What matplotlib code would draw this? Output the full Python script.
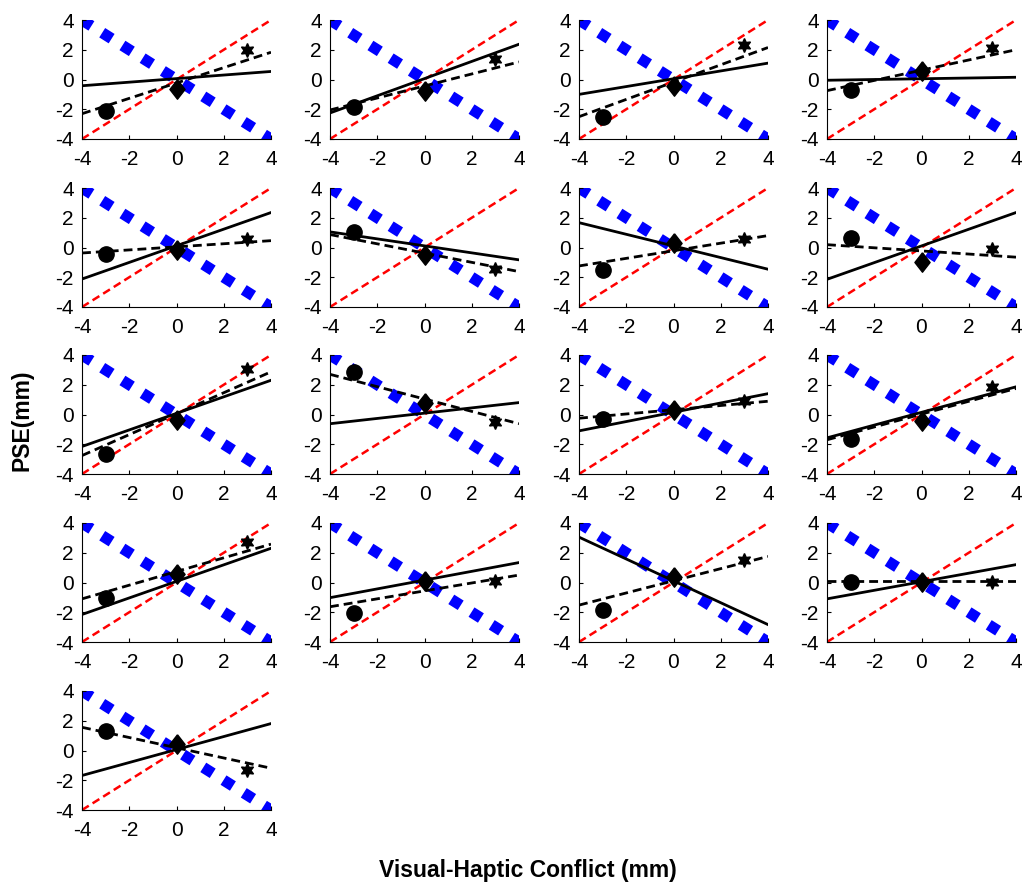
import matplotlib
matplotlib.use("Agg")
import matplotlib.pyplot as plt

plt.rcParams["font.family"] = ["Liberation Sans", "DejaVu Sans"]
plt.rcParams["axes.unicode_minus"] = False

# conflict levels where the three markers sit
conflict = [-3, 0, 3]
line_x = [-4, 4]

# measured PSE per subject (circle at -3, diamond at 0, hexagram at +3)
circle_y = [-2.1, -1.85, -2.5, -0.7, -0.44, 1.05, -1.5, 0.65, -2.65, 2.87,
            -0.28, -1.63, -1.05, -2.08, -1.86, 0.05, 1.34]
diamond_y = [-0.65, -0.8, -0.45, 0.55, -0.2, -0.48, 0.3, -1.0, -0.35, 0.75,
             0.3, -0.46, 0.55, 0.1, 0.4, 0.05, 0.45]
star_y = [2.0, 1.4, 2.3, 2.15, 0.58, -1.43, 0.58, -0.1, 3.05, -0.5,
          0.9, 1.85, 2.7, 0.1, 1.52, 0.05, -1.3]

# fitted line (dashed) endpoints at x=-4 and x=4
fit_left = [-2.3, -2.05, -2.5, -0.75, -0.37, 0.87, -1.24, 0.19, -2.76, 2.7,
            -0.25, -1.7, -1.1, -1.63, -1.52, 0.1, 1.56]
fit_right = [1.83, 1.18, 2.15, 2.0, 0.46, -1.62, 0.8, -0.65, 2.87, -0.62,
             0.89, 1.75, 2.58, 0.5, 1.75, 0.1, -1.19]

# model prediction (solid) endpoints at x=-4 and x=4
model_left = [-0.42, -2.25, -1.0, -0.05, -2.12, 1.05, 1.67, -2.14, -2.15, -0.62,
              -1.1, -1.57, -2.15, -1.02, 3.05, -1.1, -1.68]
model_right = [0.54, 2.37, 1.1, 0.15, 2.35, -0.83, -1.46, 2.35, 2.3, 0.8,
               1.4, 1.86, 2.3, 1.34, -2.83, 1.2, 1.81]

# reference lines: full visual capture (y=x) and full haptic capture (y=-x)
visual_ref = [-4, 4]
haptic_ref = [4, -4]

ticks = [-4, -2, 0, 2, 4]

# matlab-style diamond, a bit narrower than tall
diamond = [(0, 1), (0.78, 0), (0, -1), (-0.78, 0), (0, 1)]

W, H = 1022, 886
col_left = [82, 330, 579, 827]
row_top = [20, 188, 355, 523, 691]
ax_w, ax_h = 189, 119

fig = plt.figure(figsize=(W / 100, H / 100), dpi=100)

for i in range(len(circle_y)):
    r, c = divmod(i, 4)
    ax = fig.add_axes([col_left[c] / W, 1 - (row_top[r] + ax_h) / H, ax_w / W, ax_h / H])

    ax.plot(line_x, haptic_ref, color="blue", linewidth=8.0,
            linestyle=(0, (1, 1.15)), dash_capstyle="butt", zorder=1)
    ax.plot(line_x, visual_ref, color="red", linewidth=1.8,
            linestyle=(0, (3.2, 1.8)), zorder=2)
    ax.plot(line_x, [model_left[i], model_right[i]], color="black",
            linewidth=2.0, zorder=3)
    ax.plot(line_x, [fit_left[i], fit_right[i]], color="black",
            linewidth=2.0, linestyle=(0, (3.2, 1.8)), zorder=3)

    ax.plot(conflict[0], circle_y[i], marker="o", markersize=11,
            color="black", linestyle="none", zorder=4)
    ax.plot(conflict[1], diamond_y[i], marker=diamond, markersize=14,
            color="black", linestyle="none", zorder=4)
    ax.plot(conflict[2], star_y[i], marker=(6, 1, 0), markersize=10,
            color="black", linestyle="none", zorder=4)

    ax.set_xlim(-4, 4)
    ax.set_ylim(-4, 4)
    ax.set_xticks(ticks)
    ax.set_yticks(ticks)
    ax.spines["top"].set_visible(False)
    ax.spines["right"].set_visible(False)
    ax.tick_params(direction="in", length=3, labelsize=15, pad=6)
    ax.tick_params(axis="x", pad=8)

fig.text(22 / W, 1 - 420 / H, "PSE(mm)", rotation=90, fontsize=16.5,
         fontweight="bold", ha="center", va="center")
fig.text(528 / W, 1 - 871 / H, "Visual-Haptic Conflict (mm)", fontsize=16.5,
         fontweight="bold", ha="center", va="center")

fig.savefig("out.png", dpi=100)
